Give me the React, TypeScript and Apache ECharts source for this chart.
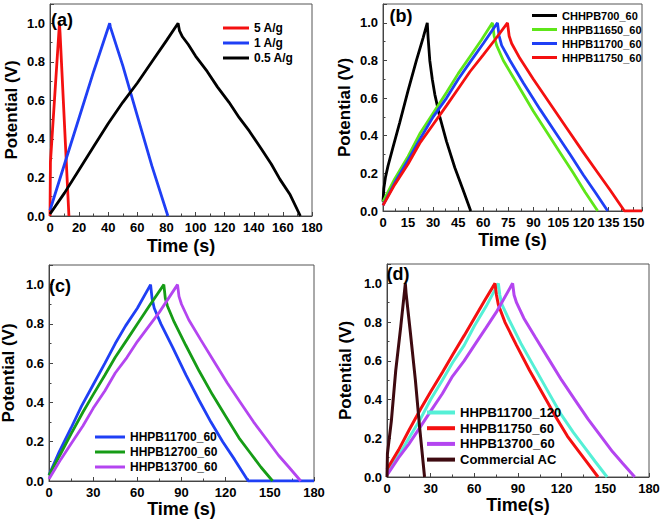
import React, { useEffect, useRef } from "react";
import * as echarts from "echarts";

type P = [number, number];

// ---------- Panel (a) ----------
const aNames = ["5 A/g", "1 A/g", "0.5 A/g"];
const a5: P[] = [[0, 0], [0.3, 0.28], [6.5, 1.0], [6.9, 0.95], [13, 0]];
const a1: P[] = [[0, 0.03], [10, 0.27], [20, 0.51], [30, 0.75], [41, 1.0], [41.5, 0.98], [50, 0.78], [60, 0.52], [70, 0.26], [81, 0]];
const a05: P[] = [[0, 0.01], [10, 0.12], [20, 0.24], [30, 0.36], [40, 0.48], [50, 0.59], [60, 0.69], [70, 0.8], [80, 0.91], [88, 1.0],
  [89, 0.96], [91, 0.93], [95, 0.89], [100, 0.83], [108, 0.75], [115, 0.67], [123, 0.59], [130, 0.51], [137, 0.44], [145, 0.35], [152, 0.27], [158, 0.19], [165, 0.11], [172, 0]];

// ---------- Panel (b) ----------
const bNames = ["CHHPB700_60", "HHPB11650_60", "HHPB11700_60", "HHPB11750_60"];
const bBlack: P[] = [[0, 0.05], [0.5, 0.12], [1.5, 0.18], [3, 0.24], [6, 0.34], [10, 0.47], [15, 0.64], [20, 0.8], [24, 0.92], [26.5, 1.0],
  [27, 0.92], [28, 0.8], [29.5, 0.7], [31, 0.62], [34, 0.5], [38, 0.37], [43, 0.23], [48, 0.11], [52.5, 0]];
const bGreen: P[] = [[0, 0.05], [7, 0.17], [15, 0.29], [22, 0.41], [30, 0.52], [38, 0.63], [45, 0.73], [52, 0.82], [59, 0.91], [65.5, 1.0],
  [66.5, 0.93], [68, 0.88], [72, 0.8], [80, 0.68], [90, 0.53], [98, 0.42], [106, 0.31], [114, 0.2], [121, 0.1], [128.5, 0]];
const bBlue: P[] = [[0, 0.03], [7, 0.15], [15, 0.27], [22, 0.38], [30, 0.5], [38, 0.6], [45, 0.7], [52, 0.79], [60, 0.89], [68.5, 1.0],
  [69.5, 0.93], [71, 0.88], [76, 0.8], [84, 0.68], [94, 0.54], [103, 0.42], [112, 0.3], [120, 0.19], [127, 0.1], [134.5, 0]];
const bRed: P[] = [[0, 0.03], [7, 0.14], [15, 0.25], [22, 0.36], [30, 0.46], [38, 0.56], [45, 0.65], [52, 0.74], [60, 0.83], [67, 0.91], [74.5, 1.0],
  [75.5, 0.93], [77, 0.89], [82, 0.81], [90, 0.7], [100, 0.57], [110, 0.44], [120, 0.31], [128, 0.21], [136, 0.11], [144.5, 0], [155, 0]];

// ---------- Panel (c) ----------
const cNames = ["HHPB11700_60", "HHPB12700_60", "HHPB13700_60"];
const cBlue: P[] = [[0, 0.03], [7, 0.15], [15, 0.27], [22, 0.38], [30, 0.49], [38, 0.6], [45, 0.7], [52, 0.79], [60, 0.88], [69, 1.0],
  [70, 0.93], [71.5, 0.88], [76, 0.8], [84, 0.68], [93, 0.54], [102, 0.41], [110, 0.3], [118, 0.2], [126, 0.11], [135.3, 0], [180, 0]];
const cGreen: P[] = [[0, 0.03], [8, 0.14], [15, 0.24], [23, 0.35], [30, 0.44], [38, 0.54], [45, 0.63], [53, 0.72], [60, 0.8], [68, 0.89], [78, 1.0],
  [79, 0.93], [80.5, 0.89], [85, 0.81], [93, 0.69], [102, 0.56], [111, 0.44], [120, 0.33], [129, 0.22], [137, 0.14], [144, 0.07], [151.9, 0]];
const cPurple: P[] = [[0, 0.01], [8, 0.11], [15, 0.19], [23, 0.28], [30, 0.37], [38, 0.46], [45, 0.55], [53, 0.63], [60, 0.71], [68, 0.79], [75, 0.86], [87.3, 1.0],
  [88.3, 0.94], [90, 0.9], [95, 0.82], [103, 0.72], [112, 0.61], [121, 0.5], [130, 0.4], [139, 0.3], [148, 0.21], [156, 0.13], [163, 0.07], [171, 0]];

// ---------- Panel (d) ----------
const dNames = ["HHPB11700_120", "HHPB11750_60", "HHPB13700_60", "Commercial AC"];
const dCyan: P[] = [[0, 0.02], [8, 0.11], [15, 0.2], [23, 0.3], [30, 0.4], [38, 0.5], [45, 0.59], [53, 0.68], [60, 0.78], [68, 0.88], [76.5, 1.0],
  [77.5, 0.94], [79, 0.89], [84, 0.81], [92, 0.69], [101, 0.57], [110, 0.45], [119, 0.33], [128, 0.23], [136, 0.15], [143, 0.08], [151.2, 0]];
const dRed: P[] = [[0, 0.04], [8, 0.14], [15, 0.24], [23, 0.35], [30, 0.44], [38, 0.54], [45, 0.63], [53, 0.73], [60, 0.82], [67, 0.91], [74.2, 1.0],
  [75.2, 0.94], [76.5, 0.89], [81, 0.8], [89, 0.68], [98, 0.55], [107, 0.43], [116, 0.31], [124, 0.21], [132, 0.13], [139, 0.06], [145, 0]];
const dPurple: P[] = [[0, 0.01], [8, 0.1], [15, 0.17], [23, 0.26], [30, 0.34], [38, 0.43], [45, 0.52], [53, 0.6], [60, 0.68], [68, 0.77], [75, 0.85], [86.3, 1.0],
  [87.3, 0.94], [89, 0.9], [94, 0.82], [102, 0.72], [111, 0.61], [120, 0.5], [129, 0.4], [138, 0.3], [147, 0.21], [155, 0.13], [162, 0.07], [170.2, 0]];
const dAC: P[] = [[0, 0.0], [0.3, 0.12], [3, 0.29], [6, 0.55], [9.5, 0.78], [12.6, 1.0], [13.1, 0.95], [16, 0.75], [19.5, 0.5], [22.5, 0.25], [25.8, 0]];

// tick / axis text
const panelLabels = ["(a)", "(b)", "(c)", "(d)"];
const xNames = ["Time (s)", "Time (s)", "Time (s)", "Time(s)"];
const yName = "Potential (V)";
const xMax = [180, 155, 180, 180];
const xInterval = [20, 15, 30, 30];

const FONT = "'Liberation Sans', Arial, sans-serif";

export default function App() {
  const ref = useRef<HTMLDivElement>(null);
  useEffect(() => {
    if (!ref.current) return;
    const chart = echarts.init(ref.current, undefined, { renderer: "svg" });

    const grids = [
      { left: 50, top: 4, width: 262, height: 212 },
      { left: 383, top: 4, width: 259, height: 207 },
      { left: 49, top: 265, width: 265, height: 216 },
      { left: 387, top: 264, width: 262, height: 213 },
    ].map((g) => ({ ...g, show: true, borderColor: "#555", borderWidth: 1, containLabel: false, outerBoundsMode: "none" }));

    const xGaps = [21, 20, 18, 19];
    const yGaps = [30, 30, 32, 33];
    const axisColor = "#444";

    const xAxes = grids.map((_, i) => ({
      type: "value",
      gridIndex: i,
      min: 0,
      max: xMax[i],
      interval: xInterval[i],
      name: xNames[i],
      nameLocation: "middle",
      nameGap: xGaps[i],
      nameTextStyle: { fontSize: 18, fontWeight: "bold", color: "#000", fontFamily: FONT },
      axisLine: { show: true, onZero: false, lineStyle: { color: axisColor, width: 1 } },
      axisTick: { show: true, inside: true, length: 4, lineStyle: { color: axisColor } },
      minorTick: { show: true, splitNumber: 2, length: 2.5, lineStyle: { color: axisColor } },
      splitLine: { show: false },
      axisLabel: {
        fontSize: 13, fontWeight: "bold", color: "#000", fontFamily: FONT, margin: 5,
        showMaxLabel: xMax[i] % xInterval[i] === 0,
      },
    }));

    const yAxes = grids.map((_, i) => ({
      type: "value",
      gridIndex: i,
      min: 0,
      max: 1.1,
      interval: 0.2,
      name: yName,
      nameLocation: "middle",
      nameGap: yGaps[i],
      nameTextStyle: { fontSize: 17, fontWeight: "bold", color: "#000", fontFamily: FONT },
      axisLine: { show: true, onZero: false, lineStyle: { color: axisColor, width: 1 } },
      axisTick: { show: true, inside: true, length: 4, lineStyle: { color: axisColor } },
      minorTick: { show: true, splitNumber: 2, length: 2.5, lineStyle: { color: axisColor } },
      splitLine: { show: false },
      axisLabel: {
        fontSize: 13, fontWeight: "bold", color: "#000", fontFamily: FONT, margin: 5,
        showMaxLabel: false,
        formatter: (v: number) => v.toFixed(1),
      },
    }));

    const mk = (name: string, data: P[], color: string, gi: number, width = 2.8) => ({
      type: "line",
      name,
      data,
      xAxisIndex: gi,
      yAxisIndex: gi,
      showSymbol: false,
      symbol: "none",
      color,
      lineStyle: { color, width },
      z: 3,
    });

    const RED = "#f41010";
    const BLUE = "#1f3ff5";
    const PURPLE = "#b445f0";

    const series = [
      mk(aNames[0], a5, RED, 0),
      mk(aNames[1], a1, BLUE, 0),
      mk(aNames[2], a05, "#000000", 0),
      mk(bNames[0], bBlack, "#000000", 1),
      mk(bNames[1], bGreen, "#5ee619", 1),
      mk(bNames[2], bBlue, BLUE, 1),
      mk(bNames[3], bRed, RED, 1),
      mk(cNames[0], cBlue, BLUE, 2),
      mk(cNames[1], cGreen, "#169c16", 2),
      mk(cNames[2], cPurple, PURPLE, 2),
      mk(dNames[0], dCyan, "#55f0d6", 3, 3),
      mk(dNames[1], dRed, RED, 3, 3),
      mk(dNames[2], dPurple, PURPLE, 3, 3),
      mk(dNames[3], dAC, "#3e0a10", 3, 3),
    ];

    const legendBase = {
      orient: "vertical",
      icon: "rect",
      selectedMode: false,
      padding: 0,
      itemGap: 1,
    };

    const legends = [
      { ...legendBase, data: aNames, left: 223, top: 21, itemWidth: 26, itemHeight: 3,
        textStyle: { fontSize: 12, fontWeight: "bold", color: "#000", lineHeight: 14, fontFamily: FONT } },
      { ...legendBase, data: bNames, left: 532, top: 9, itemWidth: 25, itemHeight: 3,
        textStyle: { fontSize: 11, fontWeight: "bold", color: "#000", lineHeight: 13, fontFamily: FONT } },
      { ...legendBase, data: cNames, left: 95, top: 430, itemWidth: 30, itemHeight: 3,
        textStyle: { fontSize: 12, fontWeight: "bold", color: "#000", lineHeight: 14, fontFamily: FONT } },
      { ...legendBase, data: dNames, left: 427, top: 405, itemWidth: 28, itemHeight: 4, itemGap: 0.7,
        textStyle: { fontSize: 13, fontWeight: "bold", color: "#000", lineHeight: 15, fontFamily: FONT } },
    ];

    const labelPos: [number, number][] = [[62, 20], [401, 16], [60, 286], [398, 274]];
    const graphic = panelLabels.map((t, i) => ({
      type: "text",
      x: labelPos[i][0],
      y: labelPos[i][1],
      z: 10,
      style: {
        text: t,
        fontSize: 18,
        fontWeight: "bold",
        fill: "#000",
        fontFamily: FONT,
        align: "center",
        verticalAlign: "middle",
      },
    }));

    chart.setOption({
      animation: false,
      backgroundColor: "#ffffff",
      grid: grids,
      xAxis: xAxes,
      yAxis: yAxes,
      legend: legends,
      series,
      graphic,
    } as any);

    return () => chart.dispose();
  }, []);

  return (
    <div
      ref={ref}
      style={{ position: "absolute", left: 0, top: 0, width: 661, height: 521, background: "#fff" }}
    />
  );
}
